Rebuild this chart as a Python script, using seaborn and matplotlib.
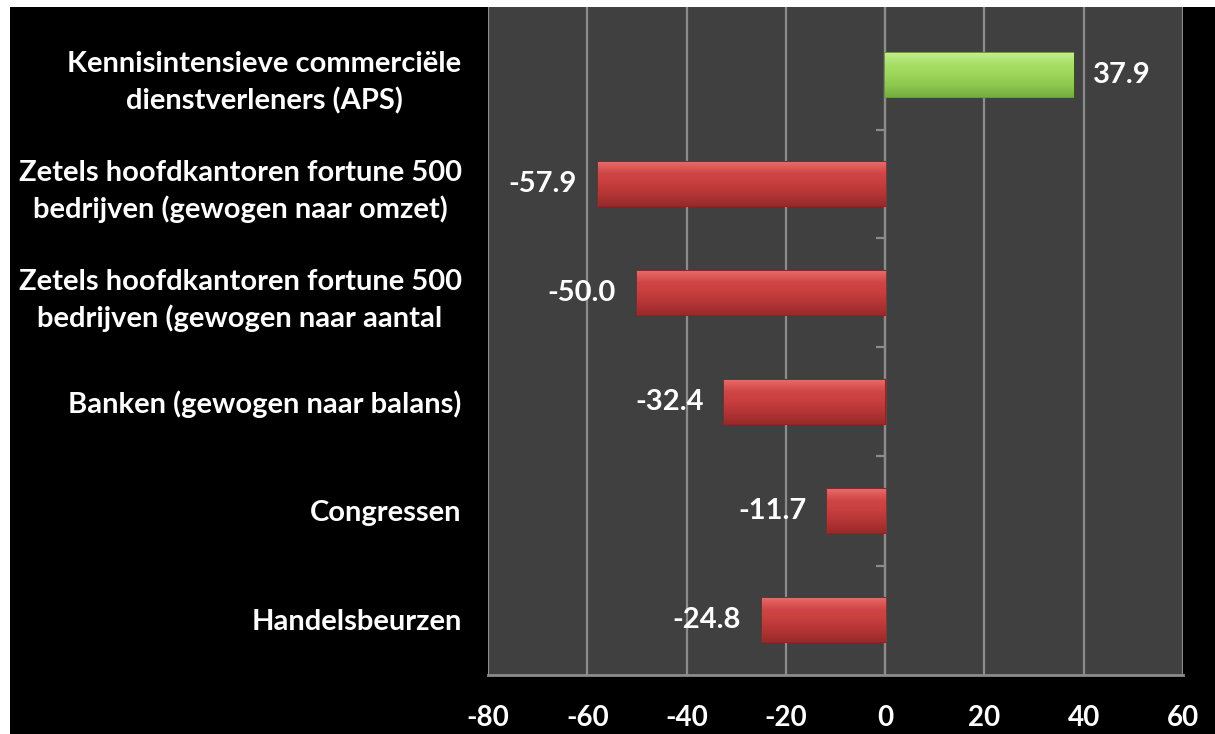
import numpy as np
import pandas as pd
import matplotlib
matplotlib.use("Agg")
import matplotlib.pyplot as plt
import seaborn as sns
from matplotlib.patches import Rectangle
from matplotlib.colors import LinearSegmentedColormap

# Data
categories = [
    "Kennisintensieve commerciële\ndienstverleners (APS)",
    "Zetels hoofdkantoren fortune 500\nbedrijven (gewogen naar omzet)",
    "Zetels hoofdkantoren fortune 500\nbedrijven (gewogen naar aantal",
    "Banken (gewogen naar balans)",
    "Congressen",
    "Handelsbeurzen",
]
values = [37.9, -57.9, -50.0, -32.4, -11.7, -24.8]
x_ticks = [-80, -60, -40, -20, 0, 20, 40, 60]

df = pd.DataFrame({"categorie": categories, "waarde": values})
df["kleur"] = np.where(df["waarde"] >= 0, "pos", "neg")

sns.set_style("dark")
plt.rcParams["font.family"] = ["Lato", "DejaVu Sans"]
plt.rcParams["font.weight"] = "bold"

fig = plt.figure(figsize=(12.15, 7.34), dpi=100)
fig.patch.set_facecolor("white")
fig.add_artist(Rectangle((10 / 1215, 0), 1, 1 - 7 / 734, transform=fig.transFigure,
                         facecolor="black", edgecolor="none", zorder=-10))

ax = fig.add_axes([488 / 1215, (734 - 674.5) / 734, (1183 - 488) / 1215, (674.5 - 7) / 734])
ax.set_facecolor("#404040")

palette = {"pos": "#9BD65A", "neg": "#C9403F"}
sns.barplot(data=df, x="waarde", y="categorie", hue="kleur", palette=palette,
            orient="h", width=0.4, dodge=False, legend=False, ax=ax, saturation=1,
            edgecolor="#8a2626", linewidth=1.5, zorder=3)

# bevel-like vertical shading on each bar
red_cmap = LinearSegmentedColormap.from_list("r", ["#E86868", "#D04646", "#C63E3D", "#B23434", "#9A2A2A"])
green_cmap = LinearSegmentedColormap.from_list("g", ["#C2EE8C", "#A6DE66", "#9BD65A", "#8CC74E", "#76AE40"])
grad = np.linspace(0, 1, 64).reshape(-1, 1)
for patch in list(ax.patches):
    fc = patch.get_facecolor()
    is_green = fc[1] > fc[0]
    if is_green:
        patch.set_edgecolor("#6f9a3c")
    x0, y0 = patch.get_x(), patch.get_y()
    w, h = patch.get_width(), patch.get_height()
    im = ax.imshow(grad, cmap=green_cmap if is_green else red_cmap, aspect="auto",
                   extent=(x0, x0 + w, y0 + h, y0), origin="upper", zorder=3.5,
                   interpolation="bilinear")
    im.set_clip_path(patch)

ax.set_xlim(-80, 60)
ax.set_ylim(5.5, 5.5 - (674.5 - 7) / 109)
ax.set_xticks(x_ticks)
ax.set_xticklabels([str(t) for t in x_ticks])

ax.grid(axis="x", color="#8c8c8c", linewidth=1.6, zorder=0)
ax.grid(axis="y", visible=False)
for s in ["top", "right", "left"]:
    ax.spines[s].set_visible(False)
ax.spines["bottom"].set_color("#8c8c8c")
ax.spines["bottom"].set_linewidth(2)

# vertical axis at zero with small tick marks between categories
ax.axvline(0, color="#8c8c8c", linewidth=1.6, zorder=1)
ax.hlines(np.arange(len(categories) - 1) + 0.5, -1.8, 0, color="#8c8c8c", linewidth=1.6, zorder=1)

ax.tick_params(axis="x", colors="#8c8c8c", length=7, width=1.6, labelcolor="white",
               labelsize=20, pad=15)
ax.tick_params(axis="y", length=0, labelcolor="white", labelsize=21, pad=19)
for t in ax.get_yticklabels():
    t.set_multialignment("center")
    t.set_fontweight("bold")
    t.set_linespacing(1.45)
for t in ax.get_xticklabels():
    t.set_fontweight("bold")
ax.set_xlabel("")
ax.set_ylabel("")

# value labels
for i, v in enumerate(values):
    if v >= 0:
        ax.text(v + 3.9, i, f"{v:.1f}", color="white", fontsize=21, fontweight="bold",
                ha="left", va="center", zorder=5)
    else:
        ax.text(v - 4.2, i, f"{v:.1f}", color="white", fontsize=21, fontweight="bold",
                ha="right", va="center", zorder=5)

fig.savefig("out.png", dpi=100, facecolor=fig.get_facecolor())
